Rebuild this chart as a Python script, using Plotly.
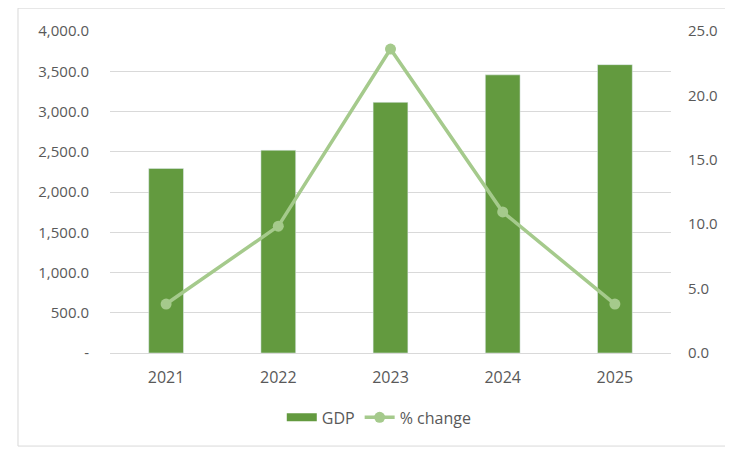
import plotly.graph_objects as go

years = ["2021", "2022", "2023", "2024", "2025"]
gdp = [2293, 2519, 3114, 3455, 3582]
pct_change = [3.8, 9.85, 23.6, 10.95, 3.8]

left_tickvals = [0, 500, 1000, 1500, 2000, 2500, 3000, 3500, 4000]
left_ticktext = ["-", "500.0", "1,000.0", "1,500.0", "2,000.0", "2,500.0", "3,000.0", "3,500.0", "4,000.0"]
right_tickvals = [0, 5, 10, 15, 20, 25]
right_ticktext = ["0.0", "5.0", "10.0", "15.0", "20.0", "25.0"]

bar_color = "#639A3F"
line_color = "#A5CA8C"
text_color = "#595959"
grid_color = "#D9D9D9"
font_family = "Open Sans, Noto Sans, sans-serif"

fig = go.Figure()
fig.add_trace(go.Bar(x=years, y=gdp, name="GDP", marker_color=bar_color, yaxis="y",
                     showlegend=False))
# legend entry for GDP drawn as a wide rectangle swatch
fig.add_trace(go.Scatter(x=[None], y=[None], name="GDP", mode="lines",
                         line=dict(color=bar_color, width=8), yaxis="y"))
fig.add_trace(go.Scatter(x=years, y=pct_change, name="% change", yaxis="y2",
                         mode="lines+markers",
                         line=dict(color=line_color, width=3.5),
                         marker=dict(color=line_color, size=11)))

fig.update_layout(
    width=725, height=442,
    margin=dict(l=102, r=62, t=20, b=97),
    paper_bgcolor="white", plot_bgcolor="white",
    font=dict(family=font_family, size=15, color=text_color),
    bargap=0.69,
    showlegend=True,
    legend=dict(orientation="h", x=0.48, xanchor="center", y=-0.2, yanchor="middle",
                font=dict(size=16, color=text_color), traceorder="normal"),
    xaxis=dict(showgrid=False, showline=True, linecolor=grid_color, linewidth=1,
               ticks="", ticklabelstandoff=10, tickfont=dict(size=16)),
    yaxis=dict(range=[0, 4000], tickvals=left_tickvals, ticktext=left_ticktext,
               showgrid=True, gridcolor=grid_color, gridwidth=1, zeroline=False,
               showline=False, ticklabelstandoff=20),
    yaxis2=dict(range=[0, 25], tickvals=right_tickvals, ticktext=right_ticktext,
                overlaying="y", side="right", showgrid=False, zeroline=False,
                showline=False, ticklabelstandoff=16),
    shapes=[dict(type="rect", xref="paper", yref="paper",
                 x0=-0.164, x1=1.104, y0=-0.289, y1=1.071,
                 line=dict(color="#D9D9D9", width=1), fillcolor="rgba(0,0,0,0)", layer="below")],
)

fig.write_html("out.html")
